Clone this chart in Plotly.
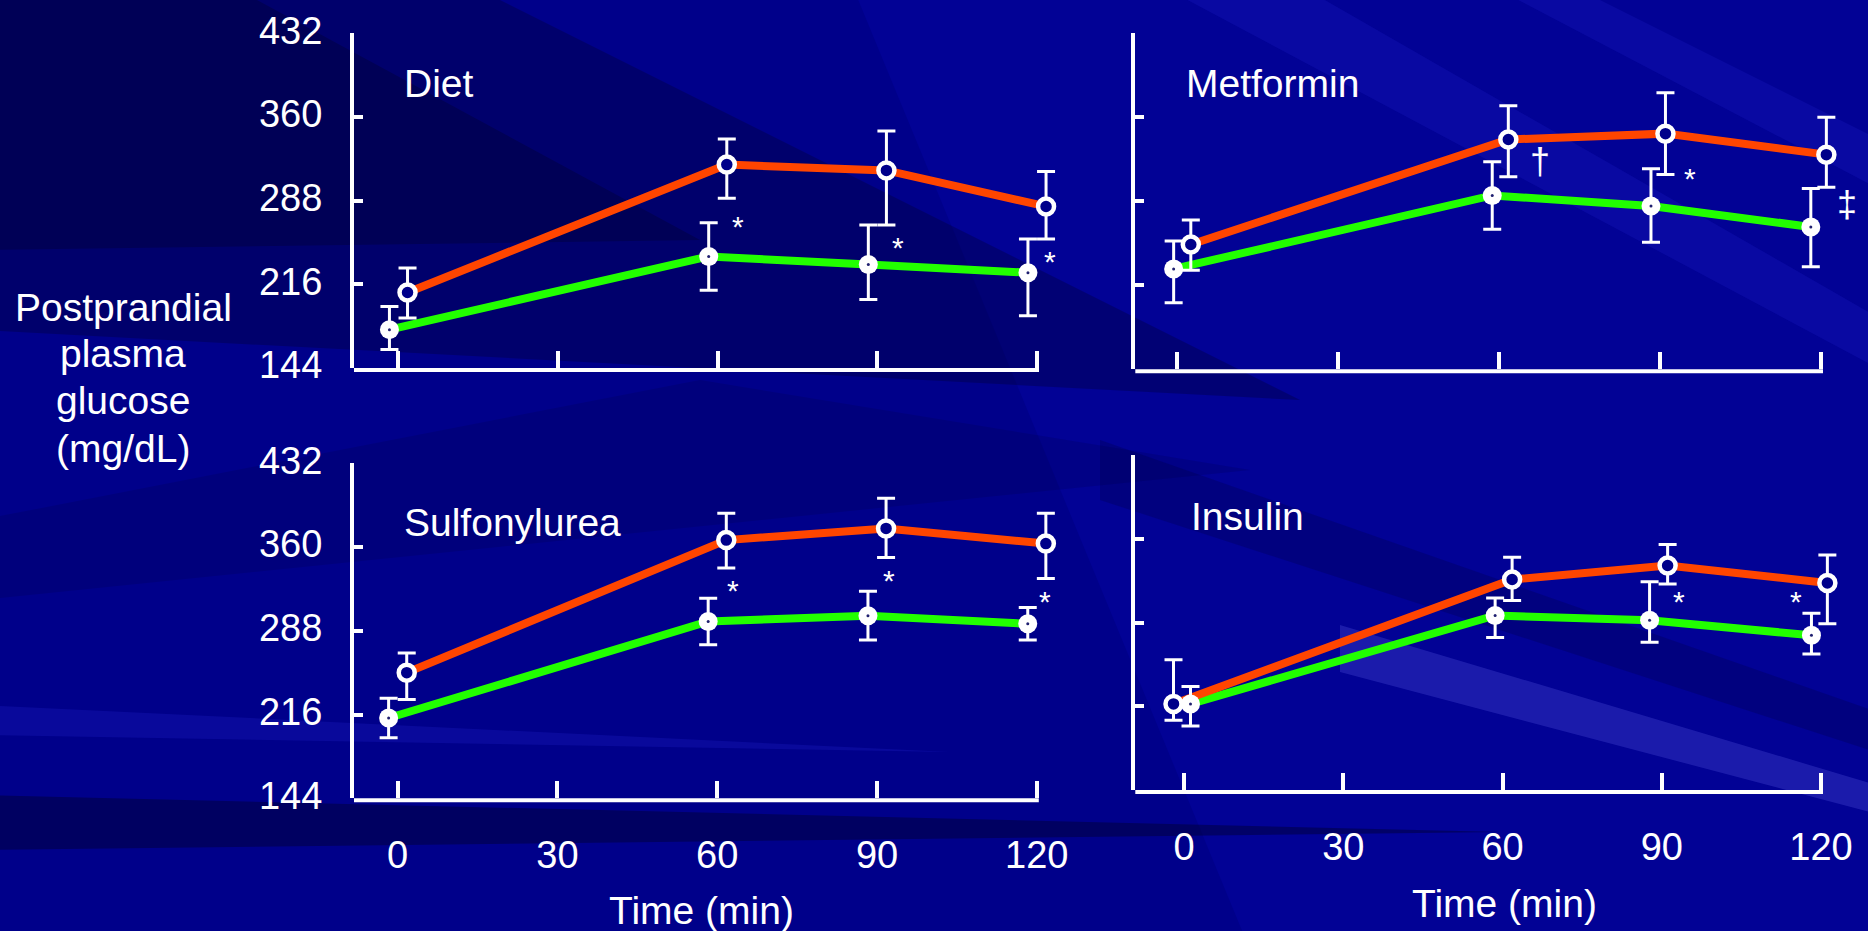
import plotly.graph_objects as go

W, H = 1868, 931

# ---------------- data ----------------
TIMES = [0, 60, 90, 120]
PANELS = ["Diet", "Metformin", "Sulfonylurea", "Insulin"]
Y_TICKS = [144, 216, 288, 360, 432]
X_TICKS = [0, 30, 60, 90, 120]
Y_TITLE = ["Postprandial", "plasma", "glucose", "(mg/dL)"]
X_TITLE = "Time (min)"

# orange series (open circles): mean, upper end of bar, lower end of bar
DIET_A = [209, 319, 314, 283]
DIET_A_HI = [230, 341, 348, 313]
DIET_A_LO = [187, 290, 267, 255]
# green series (filled circles)
DIET_B = [177, 240, 233, 226]
DIET_B_HI = [197, 269, 267, 255]
DIET_B_LO = [160, 211, 203, 189]

MET_A = [251, 341, 346, 328]
MET_A_HI = [272, 370, 381, 360]
MET_A_LO = [229, 309, 311, 300]
MET_B = [230, 293, 284, 266]
MET_B_HI = [254, 322, 316, 299]
MET_B_LO = [201, 264, 253, 232]

SULF_A = [252, 366, 376, 363]
SULF_A_HI = [269, 389, 402, 389]
SULF_A_LO = [229, 342, 351, 333]
SULF_B = [213, 296, 301, 294]
SULF_B_HI = [230, 316, 322, 308]
SULF_B_LO = [196, 276, 280, 280]

INS_A = [218, 325, 337, 322]
INS_A_HI = [256, 344, 355, 346]
INS_A_LO = [204, 307, 321, 287]
INS_B = [218, 294, 290, 277]
INS_B_HI = [233, 309, 323, 296]
INS_B_LO = [199, 275, 271, 261]

# significance symbols: panel, symbol, x (min), y (mg/dL)
SIG_PANEL = ["Diet", "Diet", "Diet", "Metformin", "Metformin", "Metformin",
             "Sulfonylurea", "Sulfonylurea", "Sulfonylurea", "Insulin", "Insulin"]
SIG_TEXT = ["*", "*", "*", "†", "*", "‡", "*", "*", "*", "*", "*"]
SIG_X = [63.9, 93.9, 122.5, 67.6, 95.6, 124.8, 62.9, 92.2, 121.6, 93.3, 115.2]
SIG_Y = [271.6, 253.7, 241.4, 322.5, 313.2, 284.9, 328.7, 337.4, 319.3, 311.9, 312.5]

SERIES = {
    "Diet": (DIET_A, DIET_A_HI, DIET_A_LO, DIET_B, DIET_B_HI, DIET_B_LO),
    "Metformin": (MET_A, MET_A_HI, MET_A_LO, MET_B, MET_B_HI, MET_B_LO),
    "Sulfonylurea": (SULF_A, SULF_A_HI, SULF_A_LO, SULF_B, SULF_B_HI, SULF_B_LO),
    "Insulin": (INS_A, INS_A_HI, INS_A_LO, INS_B, INS_B_HI, INS_B_LO),
}

# ---------------- layout / style ----------------
BG = "#00008A"
ORANGE = "#FF4500"
GREEN = "#22FF00"
WHITE = "#FFFFFF"
FONT = "Liberation Sans, Arial, sans-serif"
X_END = 120      # where the drawn x-axis line stops
X_PAD = 6        # extra room (min) to the right so offset markers stay visible


def px_x(x):
    return x / W


def px_y(y):
    return 1 - y / H


# pixel boxes of each panel: (left, x=120 position, top, bottom), and x-range start
PANEL_BOX = {
    "Diet": (354, 1037, 33.3, 368.0, -8.36),
    "Metformin": (1135.3, 1821, 33.3, 369.3, -7.85),
    "Sulfonylurea": (354, 1036.8, 463.3, 798.3, -8.2),
    "Insulin": (1135.3, 1821, 455.0, 790.0, -9.2),
}
# small horizontal jitter (min) so the two series do not overlap
JIT_A = {"Diet": [1.7] * 4, "Metformin": [2.5, 1.7, 1.0, 1.0],
         "Sulfonylurea": [1.7] * 4, "Insulin": [-2.0, 1.8, 1.1, 1.2]}
JIT_B = {"Diet": [-1.7] * 4, "Metformin": [-0.7, -1.3, -1.7, -1.9],
         "Sulfonylurea": [-1.7] * 4, "Insulin": [1.2, -1.4, -2.3, -1.8]}
TITLE_POS = {"Diet": (0.7, 389), "Metformin": (1.3, 389),
             "Sulfonylurea": (0.8, 381), "Insulin": (1.0, 379)}

fig = go.Figure()
layout_axes = {}
annotations = []
axis_shapes = []

for i, name in enumerate(PANELS):
    k = "" if i == 0 else str(i + 1)
    xref, yref = "x" + k, "y" + k
    l, r, t, b, xmin = PANEL_BOX[name]
    ppm = (r - l) / (X_END - xmin)          # pixels per minute
    r_ext = r + X_PAD * ppm
    a, a_hi, a_lo, g, g_hi, g_lo = SERIES[name]
    xa = [tt + d for tt, d in zip(TIMES, JIT_A[name])]
    xg = [tt + d for tt, d in zip(TIMES, JIT_B[name])]
    bottom = name in ("Sulfonylurea", "Insulin")
    left = name in ("Diet", "Sulfonylurea")

    # lines first
    fig.add_trace(go.Scatter(x=xg, y=g, mode="lines", xaxis=xref, yaxis=yref,
                             line=dict(color=GREEN, width=8), showlegend=False,
                             hoverinfo="skip", cliponaxis=False))
    fig.add_trace(go.Scatter(x=xa, y=a, mode="lines", xaxis=xref, yaxis=yref,
                             line=dict(color=ORANGE, width=8), showlegend=False,
                             hoverinfo="skip", cliponaxis=False))
    # green: filled white circles
    fig.add_trace(go.Scatter(
        x=xg, y=g, mode="markers", xaxis=xref, yaxis=yref, showlegend=False,
        cliponaxis=False,
        marker=dict(symbol="circle", size=19, color=WHITE, line=dict(width=0)),
        error_y=dict(type="data", symmetric=False,
                     array=[h - v for h, v in zip(g_hi, g)],
                     arrayminus=[v - lo for v, lo in zip(g, g_lo)],
                     color=WHITE, thickness=3, width=9)))
    fig.add_trace(go.Scatter(
        x=xg, y=g, mode="markers", xaxis=xref, yaxis=yref, showlegend=False,
        cliponaxis=False,
        marker=dict(symbol="circle", size=3, color="#202070"), hoverinfo="skip"))
    # orange: open circles
    fig.add_trace(go.Scatter(
        x=xa, y=a, mode="markers", xaxis=xref, yaxis=yref, showlegend=False,
        cliponaxis=False,
        marker=dict(symbol="circle", size=16, color=BG,
                    line=dict(width=4.5, color=WHITE)),
        error_y=dict(type="data", symmetric=False,
                     array=[h - v for h, v in zip(a_hi, a)],
                     arrayminus=[v - lo for v, lo in zip(a, a_lo)],
                     color=WHITE, thickness=3, width=9)))

    layout_axes["xaxis" + k] = dict(
        domain=[px_x(l), px_x(r_ext)], range=[xmin, X_END + X_PAD], anchor=yref,
        automargin=False, showline=False, ticks="inside", ticklen=17,
        tickwidth=4, tickcolor=WHITE, tickmode="array", tickvals=X_TICKS,
        ticktext=[str(v) for v in X_TICKS], showticklabels=bottom,
        tickfont=dict(size=38, color=WHITE, family=FONT), ticklabelstandoff=31,
        showgrid=False, zeroline=False, fixedrange=True)
    layout_axes["yaxis" + k] = dict(
        domain=[px_y(b), px_y(t)], range=[144, 432], anchor=xref,
        automargin=False,
        showline=True, linecolor=WHITE, linewidth=4, ticks="inside", ticklen=9,
        tickwidth=4, tickcolor=WHITE, tickmode="array", tickvals=Y_TICKS,
        ticktext=[str(v) for v in Y_TICKS], showticklabels=left,
        tickfont=dict(size=38, color=WHITE, family=FONT), ticklabelstandoff=20,
        ticklabelshift=-3, showgrid=False, zeroline=False, fixedrange=True)

    # x-axis line that stops at 120 min
    axis_shapes.append(dict(type="line", xref=xref, yref=yref + " domain",
                            x0=xmin - 4 / ppm, x1=X_END + 2 / ppm,
                            ysizemode="pixel", yanchor=0, y0=-2, y1=-2,
                            line=dict(color=WHITE, width=4), layer="above"))

    tx, ty = TITLE_POS[name]
    annotations.append(dict(x=tx, y=ty, xref=xref, yref=yref, text=name,
                            showarrow=False, xanchor="left", yanchor="middle",
                            font=dict(size=39, color=WHITE, family=FONT)))

for p, s, sx, sy in zip(SIG_PANEL, SIG_TEXT, SIG_X, SIG_Y):
    i = PANELS.index(p)
    k = "" if i == 0 else str(i + 1)
    annotations.append(dict(x=sx, y=sy, xref="x" + k, yref="y" + k, text=s,
                            showarrow=False, xanchor="center", yanchor="middle",
                            yshift=-7 if s == "*" else 0,
                            font=dict(size=30 if s == "*" else 36, color=WHITE,
                                      family=FONT)))

# y-axis title (four lines)
for line, yy in zip(Y_TITLE, [307, 354, 401, 448]):
    annotations.append(dict(x=px_x(123), y=px_y(yy), xref="paper", yref="paper",
                            text=line, showarrow=False, xanchor="center",
                            yanchor="middle",
                            font=dict(size=39, color=WHITE, family=FONT)))
# x-axis titles
for xx, yy in [(701, 910), (1504, 903)]:
    annotations.append(dict(x=px_x(xx), y=px_y(yy), xref="paper", yref="paper",
                            text=X_TITLE, showarrow=False, xanchor="center",
                            yanchor="middle",
                            font=dict(size=39, color=WHITE, family=FONT)))


# background streaks (decorative), defined in pixels
def poly(pts, color):
    d = "M " + " L ".join(f"{px_x(x):.5f},{px_y(y):.5f}" for x, y in pts) + " Z"
    return dict(type="path", path=d, xref="paper", yref="paper", layer="below",
                fillcolor=color, line=dict(width=0))


bg_shapes = [
    # brighter right half
    poly([(850, -20), (1900, -20), (1900, 950), (1250, 950)], "rgba(20,20,255,0.10)"),
    # dark top-left
    poly([(-20, -20), (460, -20), (1300, 400), (-20, 330)], "rgba(0,0,40,0.30)"),
    poly([(-20, -20), (220, -20), (700, 240), (-20, 250)], "rgba(0,0,30,0.28)"),
    poly([(-20, 520), (700, 380), (1250, 470), (-20, 600)], "rgba(0,0,40,0.14)"),
    # lighter band lower left
    poly([(-20, 705), (950, 752), (-20, 735)], "rgba(40,40,220,0.22)"),
    # dark band bottom left
    poly([(-20, 795), (1500, 832), (-20, 850)], "rgba(0,0,35,0.40)"),
    # light wedge under insulin panel
    poly([(1340, 625), (1900, 792), (1900, 820), (1340, 672)], "rgba(100,100,235,0.26)"),
    # dark diagonal through insulin panel
    poly([(1100, 440), (1900, 720), (1900, 760), (1100, 500)], "rgba(0,0,40,0.20)"),
    # faint light streaks top right
    poly([(1150, -20), (1290, -20), (1900, 330), (1900, 380)], "rgba(50,50,230,0.16)"),
    poly([(1480, -20), (1560, -20), (1900, 150), (1900, 200)], "rgba(50,50,230,0.16)"),
]

fig.update_layout(
    template="none",
    width=W, height=H, margin=dict(l=0, r=0, t=0, b=0, pad=0),
    paper_bgcolor=BG, plot_bgcolor="rgba(0,0,0,0)",
    showlegend=False, annotations=annotations, shapes=bg_shapes + axis_shapes,
    font=dict(family=FONT, color=WHITE), **layout_axes)

fig.write_html("out.html", config={"displayModeBar": False},
               post_script="document.body.style.margin='0';"
                           "document.body.style.background='#00008A';"
                           "document.body.style.overflow='hidden';")
